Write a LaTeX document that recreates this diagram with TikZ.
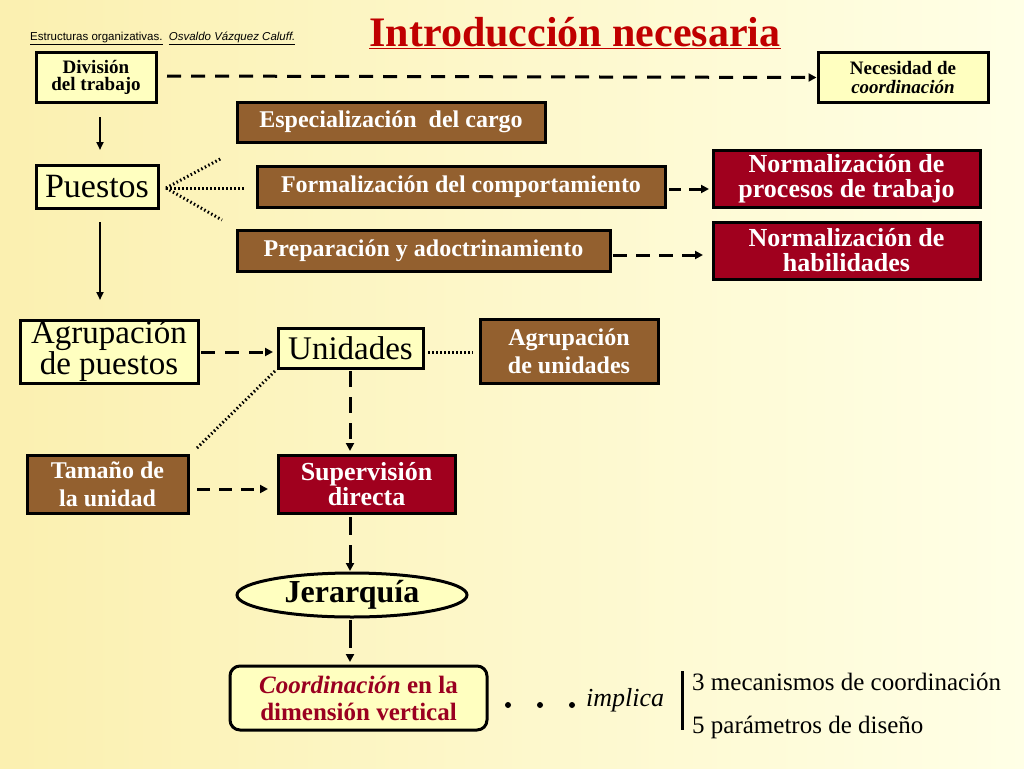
\documentclass[tikz,border=0pt]{standalone}
\usepackage{fontspec}
\setmainfont{Liberation Serif}
\newfontfamily\hdrfont{Liberation Sans}
\usetikzlibrary{shapes.geometric,arrows.meta}
\definecolor{bgA}{HTML}{FBF0B0}
\definecolor{bgB}{HTML}{FFFFE6}
\definecolor{paleY}{HTML}{FFFFC0}
\definecolor{brownB}{HTML}{93602F}
\definecolor{redB}{HTML}{A0001E}
\definecolor{titleR}{HTML}{C00000}
\definecolor{darkR}{HTML}{9A0020}
\newcommand{\fs}[1]{\fontsize{#1}{#1}\selectfont}
\newcommand{\fl}[2]{\fontsize{#1}{#2}\selectfont}
\tikzset{
 x=1pt,y=-1pt,
 ybox/.style={draw=black,line width=3pt,fill=paleY,align=center,inner sep=0pt},
 bbox/.style={draw=black,line width=3pt,fill=brownB,text=white,align=center,inner sep=0pt},
 rbox/.style={draw=black,line width=3pt,fill=redB,text=white,align=center,inner sep=0pt},
 dasharr/.style={line width=3pt,dash pattern=on 14pt off 10pt,-{Triangle[length=8pt,width=8pt]}},
 solarr/.style={line width=2pt,-{Triangle[length=8pt,width=7pt]}},
 dotln/.style={line width=3pt,dash pattern=on 1.5pt off 2.5pt},
}
\begin{document}
\begin{tikzpicture}
\shade[left color=bgA,right color=bgB] (0,0) rectangle (1024,768);
\useasboundingbox (0,0) rectangle (1024,768);
\node[anchor=west,inner sep=0pt] (hdr) at (30,38) {\hdrfont\fs{11.5}\underline{Estructuras organizativas.}\ \ \underline{\itshape Osvaldo Vázquez Caluff.}};
\node[text=titleR,inner sep=0pt] (title) at (575,33) {\fs{42}\bfseries\underline{Introducción necesaria}};
\node[ybox,minimum width=120,minimum height=49,font=\fl{19}{17}\bfseries] (div) at (96,77.5) {División\\del trabajo};
\node[ybox,minimum width=170,minimum height=49,font=\fl{19}{19}\bfseries] (nec) at (903,77.5) {Necesidad de\\\itshape coordinación};
\draw[dasharr] (167,76) -- (nec.west);
\node[ybox,minimum width=122,minimum height=43,font=\fs{34}] (pue) at (97,186.5) {Puestos};
\draw[solarr] (100,117) -- (100,150);
\node[bbox,minimum width=308,minimum height=40,font=\fs{24}\bfseries] (esp) at (391,122) {Especialización\ \ del cargo};
\node[bbox,minimum width=408,minimum height=41,font=\fs{24}\bfseries] (for) at (461,186.5) {Formalización del comportamiento};
\node[bbox,minimum width=373,minimum height=41,font=\fs{24}\bfseries] (pre) at (423.5,250.5) {Preparación y adoctrinamiento};
\node[rbox,minimum width=267,minimum height=57,font=\fl{26}{25}\bfseries] (n1) at (846.5,178.5) {Normalización de\\procesos de trabajo};
\node[rbox,minimum width=267,minimum height=57,font=\fl{26}{25}\bfseries] (n2) at (846.5,250.5) {Normalización de\\habilidades};
\coordinate (pe) at (166,188);
\draw[dotln] (pe) -- (222,158);
\draw[dotln] (pe) -- (245,188);
\draw[dotln] (pe) -- (222,220);
\draw[dasharr,dash pattern=on 12pt off 8pt] (669,189) -- (709,189);
\draw[dasharr,dash pattern=on 14pt off 9pt] (613,255) -- (703,255);
\node[ybox,minimum width=178,minimum height=63,font=\fl{33}{27}] (agr) at (109,351.5) {Agrupación\\de puestos};
\draw[solarr] (100,222) -- (100,300);
\node[ybox,minimum width=145,minimum height=40,font=\fs{33}] (uni) at (350.5,348) {Unidades};
\draw[dasharr] (201,352) -- (273,352);
\node[bbox,minimum width=178,minimum height=64,font=\fl{24}{28}\bfseries] (agu) at (569,351) {Agrupación\\de unidades};
\draw[dotln] (428,352) -- (473,352);
\node[bbox,minimum width=161,minimum height=58,font=\fl{24}{28}\bfseries] (tam) at (107.5,484) {Tamaño de\\la unidad};
\node[rbox,minimum width=177,minimum height=58,font=\fl{26}{22}\bfseries] (sup) at (366.5,484) {Supervisión\\directa};
\draw[dotln] (197,448) -- (uni.south west);
\draw[dasharr,dash pattern=on 13pt off 9pt] (197,489) -- (268,489);
\draw[dasharr,dash pattern=on 16pt off 10pt] (350,371) -- (350,451);
\node[ellipse,draw=black,line width=3pt,fill=paleY,minimum width=230,minimum height=44,inner sep=0pt,font=\fs{32}\bfseries] (jer) at (352,595) {Jerarquía};
\draw[dasharr,dash pattern=on 18pt off 10pt] (350,517) -- (350,571);
\draw[dasharr,dash pattern=on 28pt off 10pt] (350,620) -- (350,662);
\node[draw=black,line width=3pt,fill=paleY,rounded corners=10pt,minimum width=257,minimum height=64,align=center,inner sep=0pt,text=darkR,font=\fl{25}{27}\bfseries] (coo) at (358.5,698) {\itshape Coordinación\upshape\ en la\\dimensión vertical};
\foreach \xx/\nm in {508/da,540/db,572/dc} \fill (\xx,705) circle (3pt) coordinate (\nm);
\node[anchor=west,inner sep=0pt] (imp) at (586,700) {\fs{26}\itshape implica};
\draw[line width=3pt] (682,671) coordinate (b0) -- (682,730) coordinate (b1);
\node[anchor=west,inner sep=0pt] (m3) at (692,682) {\fs{25}3 mecanismos de coordinación};
\node[anchor=west,inner sep=0pt] (m5) at (692,727) {\fs{25}5 parámetros de diseño};
\end{tikzpicture}
\end{document}
